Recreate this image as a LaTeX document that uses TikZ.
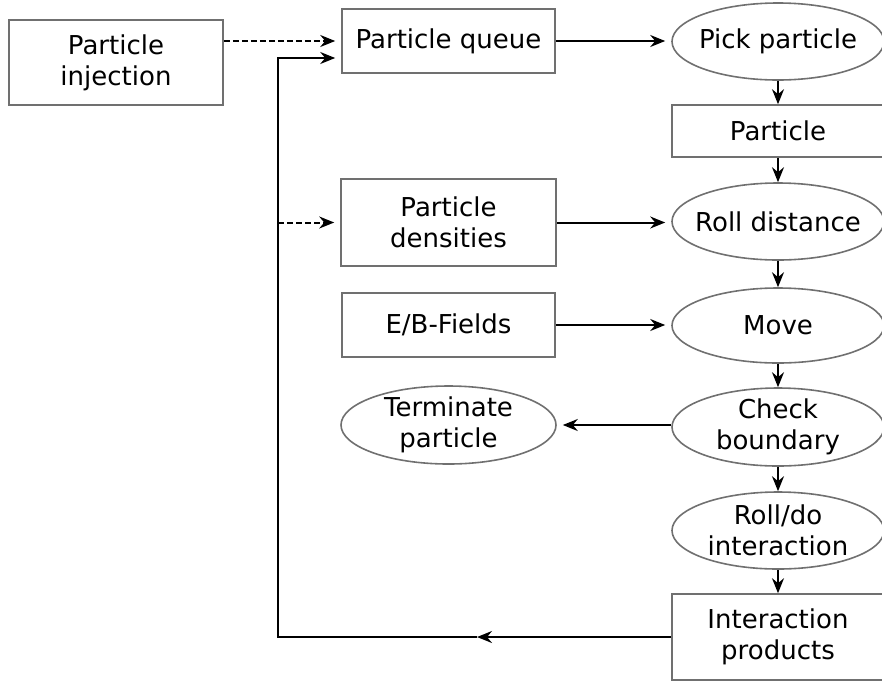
\documentclass[tikz,border=0pt]{standalone}
\usepackage{fontspec}
\setmainfont{DejaVu Sans}
\usetikzlibrary{shapes.geometric,arrows.meta}
\definecolor{bordergray}{HTML}{707070}
\tikzset{
  base/.style={draw=bordergray, line width=1.6pt, inner sep=0pt, align=center,
    font=\fontsize{26}{31}\selectfont, text=black},
  boxnode/.style={base, rectangle},
  ellnode/.style={base, ellipse, inner xsep=-80pt, inner ysep=-40pt},
  conn/.style={line width=2pt, draw=black},
  tipconn/.style={conn, -{Stealth[length=15pt,width=12pt,inset=5pt]}},
  gapconn/.style={tipconn, shorten >=6pt},
  dashconn/.style={gapconn, dash pattern=on 6pt off 3pt}
}
\begin{document}
\begin{tikzpicture}[x=1pt,y=-1pt]
\useasboundingbox (0,0) rectangle (882,681);
\clip (0,0) rectangle (882,681);
% left and middle nodes
\node[boxnode, minimum width=214pt, minimum height=85pt] (inj) at (116,62.5) {Particle\\injection};
\node[boxnode, minimum width=213pt, minimum height=64pt] (queue) at (448.5,41) {Particle queue};
\node[boxnode, minimum width=215pt, minimum height=87pt] (dens) at (448.5,222.5) {Particle\\densities};
\node[boxnode, minimum width=213pt, minimum height=64pt] (fields) at (448.5,325) {E/B-Fields};
\node[ellnode, minimum width=215pt, minimum height=78pt] (term) at (448.5,425) {Terminate\\particle};
% right column
\node[ellnode, minimum width=212pt, minimum height=77pt] (pick) at (778,41.5) {Pick particle};
\node[boxnode, minimum width=212pt, minimum height=52pt] (part) at (778,131) {Particle};
\node[ellnode, minimum width=212pt, minimum height=77pt] (roll) at (778,221.5) {Roll distance};
\node[ellnode, minimum width=212pt, minimum height=75pt] (move) at (778,325.5) {Move};
\node[ellnode, minimum width=212pt, minimum height=78pt] (check) at (778,427) {Check\\boundary};
\node[ellnode, minimum width=212pt, minimum height=77pt] (rolldo) at (778,530.5) {Roll/do\\interaction};
\node[boxnode, minimum width=212pt, minimum height=86pt] (prod) at (778,637) {Interaction\\products};
% vertical chain
\draw[tipconn] (pick) -- (part);
\draw[tipconn] (part) -- (roll);
\draw[tipconn] (roll) -- (move);
\draw[tipconn] (move) -- (check);
\draw[tipconn] (check) -- (rolldo);
\draw[tipconn] (rolldo) -- (prod);
% horizontal
\draw[gapconn] (queue.east) -- (pick.west |- queue.east);
\draw[gapconn] (dens.east) -- (roll.west |- dens.east);
\draw[gapconn] (fields.east) -- (move.west |- fields.east);
\draw[gapconn] (check.west |- term.east) -- (term.east);
\draw[dashconn] (inj.east |- queue.west) -- (queue.west);
% loop
\coordinate (loopbot) at (278,637);
\coordinate (mid) at (477,637);
\coordinate (looptop) at (278,58);
\coordinate (loopdens) at (278,222.5);
\draw[tipconn] (prod.west) -- (mid);
\draw[gapconn] (mid) -- (loopbot) -- (looptop) -- (queue.west |- looptop);
\draw[dashconn] (loopdens) -- (dens.west);
\end{tikzpicture}
\end{document}
